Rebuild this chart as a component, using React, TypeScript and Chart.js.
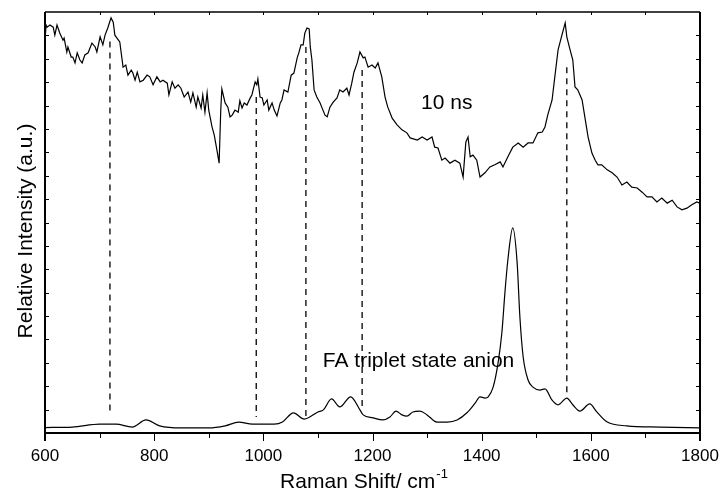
import React, { useEffect, useRef } from "react";
import { Chart, registerables } from "chart.js";
Chart.register(...registerables);

// X axis tick labels (Raman shift, cm^-1)
const xTickValues = [600, 800, 1000, 1200, 1400, 1600, 1800];

// Transient spectrum at 10 ns: [shift, intensity]
const spectrum10ns: [number, number][] = [
  [600, 93], [602, 96.9], [604, 96.4], [609, 96.9], [615, 96.4], [618, 94.5], [622, 96.9], [627, 95.0],
  [633, 93.3], [635, 93.8], [640, 90.5], [642, 91.7], [648, 89.3], [651, 89.3], [655, 87.9], [659, 90.3],
  [664, 88.6], [668, 87.9], [673, 89.8], [679, 90.3], [686, 92.6], [692, 91.7], [695, 90.5], [701, 94.1],
  [706, 92.2], [710, 94.5], [715, 96.2], [721, 98.6], [725, 97.6], [728, 94.5], [737, 92.9], [743, 86.9],
  [748, 87.4], [752, 85.0], [758, 86.2], [761, 85.5], [765, 83.8], [769, 85.7], [774, 83.4], [780, 83.8],
  [787, 85.0], [792, 84.6], [798, 82.7], [805, 84.6], [811, 83.4], [816, 83.8], [824, 83.1], [827, 80.3],
  [833, 83.4], [838, 81.9], [844, 82.7], [849, 81.9], [855, 79.8], [862, 81.0], [867, 78.6], [871, 80.8],
  [877, 77.4], [880, 79.8], [886, 77.2], [889, 80.3], [893, 76.2], [897, 80.8], [900, 76.7], [906, 72.7],
  [910, 70.8], [915, 67.2], [919, 64.1], [922, 76.7], [924, 81.7], [930, 78.4], [935, 77.4], [939, 75.1],
  [943, 75.5], [948, 76.7], [954, 76.2], [957, 78.9], [961, 77.2], [965, 78.4], [970, 77.9], [976, 79.6],
  [979, 80.3], [985, 83.4], [988, 82.7], [990, 84.1], [994, 79.8], [998, 79.6], [1001, 77.9], [1007, 79.1],
  [1010, 76.7], [1016, 78.4], [1020, 76.7], [1025, 75.3], [1031, 78.4], [1034, 79.1], [1038, 81.5], [1045, 81.0],
  [1051, 85.0], [1056, 85.5], [1062, 89.1], [1065, 90.3], [1069, 92.2], [1073, 92.2], [1076, 95.0], [1080, 96.2],
  [1084, 96.0], [1086, 91.7], [1089, 88.6], [1093, 81.5], [1098, 79.8], [1104, 78.4], [1107, 77.4], [1113, 75.5],
  [1117, 75.1], [1122, 77.4], [1128, 78.6], [1135, 79.6], [1140, 81.5], [1146, 81.0], [1153, 81.9], [1157, 80.3],
  [1162, 83.1], [1166, 85.7], [1172, 87.9], [1177, 90.5], [1183, 89.1], [1186, 89.3], [1192, 86.9], [1199, 87.4],
  [1205, 86.7], [1210, 87.9], [1217, 84.6], [1223, 79.8], [1228, 77.4], [1236, 74.8], [1245, 73.2], [1254, 72.0],
  [1263, 71.3], [1269, 70.1], [1282, 69.6], [1291, 70.3], [1300, 69.6], [1309, 70.3], [1314, 67.9], [1320, 67.7],
  [1327, 64.8], [1333, 65.3], [1342, 64.1], [1351, 64.8], [1360, 64.1], [1366, 60.8], [1371, 69.1], [1375, 70.3],
  [1379, 65.6], [1384, 66.0], [1391, 64.8], [1397, 60.8], [1406, 61.8], [1415, 63.2], [1424, 63.7], [1434, 64.4],
  [1439, 63.2], [1448, 65.6], [1457, 67.9], [1467, 68.9], [1476, 67.9], [1485, 68.9], [1494, 68.9], [1503, 71.3],
  [1511, 71.5], [1516, 72.7], [1521, 75.5], [1529, 79.1], [1534, 84.6], [1540, 91.0], [1547, 94.5], [1553, 97.4],
  [1556, 94.1], [1562, 91.0], [1567, 88.6], [1571, 82.2], [1576, 81.5], [1584, 79.1], [1589, 75.1], [1595, 70.3],
  [1602, 66.5], [1608, 64.8], [1613, 63.7], [1620, 63.7], [1630, 62.5], [1639, 61.8], [1648, 60.8], [1657, 58.9],
  [1666, 59.6], [1675, 58.4], [1685, 58.2], [1694, 57.2], [1703, 56.1], [1712, 56.1], [1721, 54.9], [1730, 55.8],
  [1740, 54.6], [1749, 55.3], [1758, 53.7], [1767, 53.0], [1776, 53.4], [1785, 54.2], [1794, 54.9], [1800, 54.6],
];

// Calculated spectrum of FA triplet state anion: [shift, intensity]
const spectrumAnion: [number, number][] = [
  [600, 1.3], [650, 1.4], [700, 2.1], [730, 2.1], [760, 1.4], [785, 3.1], [810, 1.7], [850, 1.2],
  [900, 1.2], [930, 1.7], [955, 2.6], [980, 2.1], [1020, 2.1], [1035, 2.6], [1055, 4.8], [1075, 3.3],
  [1100, 5.0], [1110, 5.5], [1125, 8.1], [1140, 6.2], [1160, 8.6], [1177, 5.5], [1183, 4.3], [1201, 3.6],
  [1219, 3.1], [1232, 3.8], [1243, 5.2], [1254, 4.3], [1263, 4.0], [1274, 5.0], [1287, 5.2], [1300, 4.3],
  [1318, 2.6], [1337, 2.6], [1355, 3.1], [1373, 4.8], [1388, 7.1], [1397, 8.6], [1406, 8.3], [1412, 8.6],
  [1421, 10.9], [1430, 16.6], [1437, 23.8], [1443, 34.0], [1448, 41.1], [1457, 48.7], [1465, 40.4], [1470, 27.6],
  [1476, 18.1], [1485, 12.6], [1494, 10.9], [1507, 10.2], [1516, 10.5], [1529, 7.8], [1540, 6.7], [1556, 8.3],
  [1567, 6.7], [1580, 5.2], [1598, 6.9], [1611, 5.0], [1630, 2.6], [1666, 1.7], [1727, 1.4], [1800, 1.2],
];

// Dashed correlation markers
const markerShift = [719, 987, 1078, 1181, 1556];
const markerTop = [93.0, 79.8, 91.7, 86.2, 86.9];
const markerBottom = [4.3, 3.8, 3.6, 6.4, 9.3];

// Annotations
const annotationTexts = ["10 ns", "FA triplet state anion"];
const annotationShift = [1289, 1109];
const annotationIntensity = [77, 15.7];

const FONT = "'Liberation Sans', Arial, Helvetica, sans-serif";

export default function App() {
  const ref = useRef<HTMLCanvasElement>(null);

  useEffect(() => {
    document.body.style.margin = "0";
    const canvas = ref.current;
    if (!canvas) return;

    const framePlugin = {
      id: "framePlugin",
      afterDraw(chart: any) {
        const ctx = chart.ctx as CanvasRenderingContext2D;
        const xs = chart.scales.x;
        const ys = chart.scales.y;
        const { left, right, top, bottom } = chart.chartArea;
        ctx.save();
        ctx.strokeStyle = "#000";
        ctx.fillStyle = "#000";
        // frame
        ctx.lineWidth = 1.5;
        ctx.beginPath();
        ctx.moveTo(left, top);
        ctx.lineTo(right, top);
        ctx.stroke();
        ctx.lineWidth = 2;
        ctx.beginPath();
        ctx.moveTo(left, top);
        ctx.lineTo(left, bottom + 8);
        ctx.moveTo(right, top);
        ctx.lineTo(right, bottom + 8);
        ctx.moveTo(left, bottom);
        ctx.lineTo(right, bottom);
        ctx.stroke();
        // bottom ticks (outward), top ticks (inward)
        ctx.lineWidth = 1;
        for (let v = 600; v <= 1800; v += 100) {
          const px = Math.round(xs.getPixelForValue(v)) + 0.5;
          const major = (v - 600) % 200 === 0;
          ctx.beginPath();
          ctx.moveTo(px, bottom + 1);
          ctx.lineTo(px, bottom + (major ? 8 : 5));
          ctx.moveTo(px, top);
          ctx.lineTo(px, top + 3);
          ctx.stroke();
        }
        // left/right ticks (inward)
        for (let k = 1; k < 18; k++) {
          const py = Math.round(ys.getPixelForValue((k * 100) / 18)) + 0.5;
          ctx.beginPath();
          ctx.moveTo(left, py);
          ctx.lineTo(left + 4, py);
          ctx.moveTo(right, py);
          ctx.lineTo(right - 4, py);
          ctx.stroke();
        }
        // annotations
        ctx.font = `21px ${FONT}`;
        ctx.textAlign = "left";
        ctx.textBaseline = "alphabetic";
        annotationTexts.forEach((t, i) => {
          ctx.fillText(t, xs.getPixelForValue(annotationShift[i]), ys.getPixelForValue(annotationIntensity[i]));
        });
        // x axis title with superscript
        const xt = "Raman Shift/ cm";
        ctx.font = `21px ${FONT}`;
        const w = ctx.measureText(xt).width;
        const sup = "-1";
        ctx.font = `13px ${FONT}`;
        const ws = ctx.measureText(sup).width;
        const cx = (left + right) / 2 - 9;
        const startX = cx - (w + ws) / 2;
        ctx.font = `21px ${FONT}`;
        ctx.fillText(xt, startX, 488);
        ctx.font = `13px ${FONT}`;
        ctx.fillText(sup, startX + w + 1, 478);
        // y axis title
        ctx.save();
        ctx.translate(32, 231);
        ctx.rotate(-Math.PI / 2);
        ctx.font = `21px ${FONT}`;
        ctx.textAlign = "center";
        ctx.fillText("Relative Intensity (a.u.)", 0, 0);
        ctx.restore();
        ctx.restore();
      },
    };

    const markerDatasets = markerShift.map((s, i) => ({
      data: [
        { x: s, y: markerTop[i] },
        { x: s, y: markerBottom[i] },
      ],
      borderColor: "#000",
      borderWidth: 1.3,
      borderDash: [6, 5],
      pointRadius: 0,
      fill: false,
    }));

    const chart = new Chart(canvas, {
      type: "line",
      data: {
        datasets: [
          {
            data: spectrum10ns.map(([x, y]) => ({ x, y })),
            borderColor: "#000",
            borderWidth: 1.2,
            pointRadius: 0,
            tension: 0,
            fill: false,
          },
          {
            data: spectrumAnion.map(([x, y]) => ({ x, y })),
            borderColor: "#000",
            borderWidth: 1.2,
            pointRadius: 0,
            cubicInterpolationMode: "monotone",
            fill: false,
          },
          ...markerDatasets,
        ] as any,
      },
      options: {
        animation: false,
        responsive: false,
        events: [],
        layout: { padding: { left: 45, right: 22, top: 12, bottom: 0 } },
        plugins: { legend: { display: false }, tooltip: { enabled: false } },
        scales: {
          x: {
            type: "linear",
            min: 600,
            max: 1800,
            afterBuildTicks: (scale: any) => {
              scale.ticks = xTickValues.map((v) => ({ value: v }));
            },
            afterFit: (scale: any) => {
              scale.height = 58;
              scale.paddingLeft = 0;
              scale.paddingRight = 0;
            },
            ticks: {
              color: "#000",
              font: { family: FONT, size: 17 },
              padding: 13,
              maxRotation: 0,
              autoSkip: false,
              callback: (v: any) => String(v),
            },
            grid: { display: false, drawTicks: false },
            border: { display: false },
          },
          y: {
            type: "linear",
            min: 0,
            max: 100,
            display: false,
          },
        },
      } as any,
      plugins: [framePlugin],
    });

    return () => chart.destroy();
  }, []);

  return (
    <div style={{ width: 722, height: 491 }}>
      <canvas ref={ref} width={722} height={491} style={{ display: "block" }} />
    </div>
  );
}
